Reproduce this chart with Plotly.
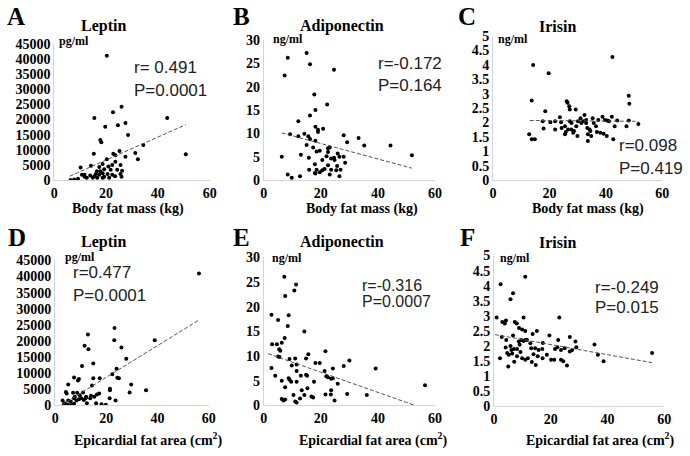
import plotly.graph_objects as go

# ---------------- data ----------------
A_x = [20.3, 43.6, 50.8, 26, 22.7, 15.5, 27.5, 24.6, 19.7, 28.5, 17.8, 18.2, 34.4, 15.3, 25.2, 22.8, 23.6, 31.3, 32.3, 27.5,
       20.3, 23.6, 18.7, 22.4, 25.6, 14.2, 20.9, 17.4, 10.2, 19.3, 21.8, 24.3, 26.2, 16.5, 17.8, 18.7, 16.1, 17.4, 11.7, 13.9,
       15.5, 20.6, 22.4, 23.5, 25.6, 26, 11.7, 12.6, 14.9, 16.6, 18.7, 9.2, 7.7, 6.3, 19.3, 21.2, 10.7]
A_y = [41000, 20470, 8530, 24200, 22400, 20470, 18870, 18100, 17600, 14900, 13200, 12500, 11600, 8740, 9600, 8740, 8200, 8950, 6900, 7700,
       6900, 6100, 5300, 5000, 5000, 4700, 4500, 4300, 4200, 3600, 3400, 3400, 3100, 2900, 2900, 2300, 2000, 1800, 1800, 1500,
       1300, 2000, 1800, 1300, 2000, 1100, 1100, 750, 750, 750, 750, 430, 200, 0, 1100, 750, 1800]

B_x = [8.4, 15, 16.2, 7.3, 24.6, 17.7, 18.1, 22.2, 16.2, 12.1, 18.1, 19, 20.8, 19, 9.2, 12.1, 14.2, 15.6, 16.2, 18.1,
       28, 29.2, 33.2, 35.2, 44.4, 51.9, 15, 17.3, 19.6, 22.5, 23.1, 18.5, 22.5, 6.3, 13, 15.8, 20.5, 22, 23.6, 24.6,
       25.9, 26.5, 28, 24.8, 17.9, 22.5, 25.7, 28.5, 15.9, 18.5, 20.5, 21.3, 23.6, 25.4, 26.9, 18.1, 19.6, 23.1, 8.4, 12.7,
       9.8, 26.5, 17.9]
B_y = [26.2, 27.2, 24.8, 22.4, 23.6, 18.3, 15, 16.2, 13.8, 12.6, 11.4, 10.8, 11, 10.3, 9.8, 9.4, 9.9, 9.4, 8.8, 8.4,
       9.6, 8.1, 9, 7.4, 7.4, 5.3, 7.5, 7, 6.3, 6.8, 7, 6.1, 6, 5, 5.4, 4.8, 4.3, 5.1, 4.6, 4.8,
       5.7, 5, 5, 4.3, 3.4, 3.2, 3, 3.7, 2.2, 2.2, 2.1, 2.4, 2.2, 2.1, 2.2, 1.4, 1.7, 1.2, 1.2, 0.8,
       0.5, 0.8, 1.5]

C_x = [14.2, 19.7, 42.3, 13.7, 18.5, 26.1, 26.4, 27, 27.2, 29.3, 48.1, 48.3, 12.8, 13.7, 14.8, 17.6, 17.9, 20.3, 22, 23.7,
       24.1, 24.3, 25.5, 25.8, 26.6, 27.2, 27.8, 27.8, 28.4, 28.7, 29.5, 29.9, 30.1, 31, 31.3, 31.9, 32.4, 33, 33, 33.4,
       33.6, 34.2, 33.6, 34.5, 34.8, 35.7, 36.5, 36.8, 37.3, 38, 38.8, 39.2, 39.6, 40.3, 41.1, 40.5, 42.1, 42.6, 43.1, 44,
       47.3, 48.1, 51.5, 22, 25.5, 35.3]
C_y = [3.99, 3.71, 4.27, 2.76, 2.39, 2.74, 2.68, 2.56, 2.45, 2.45, 2.93, 2.65, 1.59, 1.42, 1.42, 2.04, 1.79, 2.01, 1.76, 2.18,
       2.01, 1.81, 1.59, 1.67, 1.76, 2.04, 1.98, 1.76, 1.64, 1.7, 1.87, 1.53, 2.04, 2.15, 1.98, 2.04, 2.26, 2.09, 1.98, 1.81,
       1.59, 1.76, 1.36, 1.7, 1.53, 1.98, 1.87, 1.67, 2.09, 1.64, 2.2, 1.61, 2.09, 1.53, 2.04, 2.07, 2.2, 1.42, 1.87, 2.07,
       1.87, 2.07, 1.95, 2.04, 1.87, 2.15]

D_x = [56.2, 38.9, 23.2, 12.8, 23.1, 11.5, 13, 25.9, 27.8, 14.9, 10.5, 24, 22.3, 7.4, 9.3, 8.9, 14.9, 17.4, 24.3, 24.9,
       5.1, 14.4, 29.7, 21.4, 21.4, 35.5, 29.1, 4.2, 4.5, 7, 8.6, 9.6, 10.9, 7.7, 12.1, 14, 15.3, 16.3, 17.2, 2.9,
       5.1, 6.1, 8.3, 9.3, 10.2, 11.2, 11.9, 13.7, 21.3, 23.6, 16, 18.1, 19.8, 3.4, 4.9, 5.7, 6.6, 7.4, 3.8, 7.3, 12.4]
D_y = [40900, 20200, 24000, 22000, 20200, 18500, 17400, 18000, 14500, 13000, 12200, 11400, 9700, 8700, 8200, 7700, 8400, 8400, 8600, 8400,
       6500, 6200, 6500, 5200, 4700, 4700, 4000, 4200, 3700, 3900, 3900, 3200, 4000, 2700, 2700, 3000, 2700, 3400, 3700, 1500,
       1500, 1200, 1500, 1900, 2200, 1700, 2200, 2200, 2200, 1500, 700, 400, 200, 400, 200, 0, 200, 500, 700, 2200, 700]

E_x = [7.2, 10.7, 11.3, 7.5, 2.7, 8.7, 5, 8.4, 14.2, 7.3, 2.9, 4.6, 6.3, 5.4, 5.8, 21.6, 15.6, 5, 5.5, 9,
       11, 14.8, 30, 18.1, 19.6, 11.5, 9.8, 28, 2.7, 24.2, 39.2, 11.5, 21.3, 4, 13, 14.8, 15.2, 21.9, 22.5, 8.7,
       9, 9.6, 11.5, 6.3, 23.6, 24.2, 17.6, 25.9, 56.5, 7.5, 15.3, 13.3, 23.6, 10.4, 14.2, 16.7, 17.3, 21.6, 23.5, 29.2,
       36.1, 6.3, 6.9, 7.5, 11, 11.5, 24.8, 12.7]
E_y = [26.1, 23.3, 24.5, 22.2, 18.4, 18.3, 17.3, 16.1, 15, 13.7, 12.4, 12.4, 12.7, 11.4, 11.1, 11, 10.4, 9.9, 9.8, 9.4,
       9.5, 9.5, 9.1, 8.6, 8.6, 8.3, 8.1, 8, 7.6, 7.5, 7.5, 7, 7, 6, 6, 6.2, 6, 5.9, 5.7, 5.5,
       5.2, 4.8, 4.8, 5, 5.4, 5.5, 4.8, 4.4, 4.1, 3.7, 3.5, 3.1, 3.1, 2.1, 2.1, 1.8, 1.6, 2.2, 2.2, 2.3,
       2.1, 1.3, 1, 1.2, 0.8, 0.6, 1, 1.4]

F_x = [11, 2.3, 6.7, 5.8, 0.9, 10.4, 23, 2.9, 3.8, 4.2, 7.3, 8, 8.8, 9.9, 11, 13.6, 15.1, 19.5, 2.7, 6.7,
       4.3, 8.7, 9.6, 10.4, 11, 11.6, 17.2, 22.6, 26.7, 28.7, 35.4, 4.1, 5.8, 7, 8.1, 9.3, 13.1, 14.5, 15.7, 17,
       21.5, 22.3, 23.6, 24.9, 26.7, 29, 27.5, 4.6, 5.2, 6.4, 8.1, 9.9, 11, 11.9, 13.9, 15.4, 17.1, 20.1, 21.2, 23.6,
       36.6, 38.6, 55.7, 2.1, 7.1, 13.3, 14.7, 5, 24.4, 25.7, 9, 12.8, 6.1, 18.6]
F_y = [4.3, 4.05, 3.75, 3.55, 2.95, 2.95, 2.95, 2.8, 2.75, 2.85, 2.8, 2.75, 2.6, 2.55, 2.5, 2.4, 2.5, 2.35, 2.3, 2.35,
       2.2, 2.15, 2.2, 2.17, 2.2, 2.2, 2.1, 2.2, 2.3, 2.15, 2.05, 1.95, 2, 1.9, 1.9, 1.8, 1.93, 1.93, 1.87, 1.9,
       1.9, 1.96, 1.87, 1.93, 1.82, 1.96, 1.87, 1.77, 1.71, 1.75, 1.66, 1.6, 1.55, 1.6, 1.73, 1.66, 1.6, 1.55, 1.55, 1.55,
       1.71, 1.5, 1.77, 1.6, 1.48, 1.47, 1.37, 1.32, 1.5, 1.36, 2.04, 2.09, 1.87, 1.71]

# trend lines (endpoints)
A_trend_x, A_trend_y = [6.0, 50.8], [1300, 18300]
B_trend_x, B_trend_y = [6.3, 51.9], [10.1, 2.55]
C_trend_x, C_trend_y = [13.0, 51.5], [2.07, 2.04]
D_trend_x, D_trend_y = [2.6, 56.2], [200, 26500]
E_trend_x, E_trend_y = [1.5, 53.0], [10.5, 0.0]
F_trend_x, F_trend_y = [0.3, 55.7], [2.38, 1.45]

letters = ["A", "B", "C", "D", "E", "F"]
titles = ["Leptin", "Adiponectin", "Irisin", "Leptin", "Adiponectin", "Irisin"]
units = ["pg/ml", "ng/ml", "ng/ml", "pg/ml", "ng/ml", "ng/ml"]
xtitles = ["Body fat mass (kg)"] * 3 + ["Epicardial fat area (cm<sup>2</sup>)"] * 3
r_texts = ["r= 0.491", "r=-0.172", "r=0.098", "r=0.477", "r=-0.316", "r=-0.249"]
p_texts = ["P=0.0001", "P=0.164", "P=0.419", "P=0.0001", "P=0.0007", "P=0.015"]

leptin_ticks = list(range(0, 45001, 5000))
adipo_ticks = list(range(0, 31, 5))
irisin_ticks = [0, 0.5, 1, 1.5, 2, 2.5, 3, 3.5, 4, 4.5, 5]
x_ticks = [0, 20, 40, 60]

xs = [A_x, B_x, C_x, D_x, E_x, F_x]
ys = [A_y, B_y, C_y, D_y, E_y, F_y]
txs = [A_trend_x, B_trend_x, C_trend_x, D_trend_x, E_trend_x, F_trend_x]
tys = [A_trend_y, B_trend_y, C_trend_y, D_trend_y, E_trend_y, F_trend_y]
yticks = [leptin_ticks, adipo_ticks, irisin_ticks, leptin_ticks, adipo_ticks, irisin_ticks]

# ---------------- layout geometry (pixels) ----------------
W, H = 690, 456
def fx(p): return p / W
def fy(p): return 1 - p / H

boxes = [  # x0, x1, y_bottom, y_top in pixels
    (51, 209, 179, 38),
    (264, 438, 179, 34),
    (497, 669, 179, 30),
    (52, 208, 412, 262),
    (264, 438, 412, 259),
    (498, 671, 413, 257),
]
letter_pos = [(12, 10), (241, 10), (471, 10), (13, 238), (241, 238), (471, 238)]
title_pos = [(101, 20), (343, 20), (562, 20), (101, 243), (343, 243), (562, 243)]
unit_pos = [(54, 35), (271, 33), (500, 33), (60, 259), (270, 260), (502, 260)]
xtitle_pos = [(126, 209), (364, 209), (593, 209), (146, 447), (375, 447), (606, 447)]
# (x, y, size)
r_pos = [(130, 63, 17), (378, 58, 17), (623, 143, 17), (68, 275, 17), (362, 288, 16), (599, 290, 17)]
p_pos = [(130, 86, 17), (378, 81, 17), (623, 167, 17), (68, 298, 17), (362, 305, 16), (599, 311, 17)]

serif = "Liberation Serif"
sans = "Liberation Sans"

fig = go.Figure()
annotations = []
layout_axes = {}


def ann(text, x, y, size, family, bold, xanchor="center", color="black"):
    annotations.append(dict(
        text=text, x=fx(x), y=fy(y), xref="paper", yref="paper",
        xanchor=xanchor, yanchor="middle", showarrow=False,
        font=dict(family=family, size=size, color=color, weight="bold" if bold else "normal")))


for i in range(6):
    n = "" if i == 0 else str(i + 1)
    x0, x1, yb, yt = boxes[i]
    ymax = yticks[i][-1]
    layout_axes["xaxis" + n] = dict(
        domain=[fx(x0), fx(x1)], range=[0, 60], anchor="y" + n,
        tickvals=x_ticks, showgrid=False, zeroline=False,
        showline=True, linecolor="#d4d4d4", linewidth=1, ticks="",
        tickfont=dict(family=serif, size=14, color="black", weight="bold"),
    )
    layout_axes["yaxis" + n] = dict(
        domain=[fy(yb), fy(yt)], range=[0, ymax], anchor="x" + n,
        tickvals=yticks[i], ticktext=[f"{v:g}" for v in yticks[i]],
        showgrid=False, zeroline=False, ticks="",
        showline=True, linecolor="#d4d4d4", linewidth=1,
        tickfont=dict(family=serif, size=14, color="black", weight="bold"),
    )
    fig.add_trace(go.Scatter(
        x=xs[i], y=ys[i], mode="markers", xaxis="x" + n, yaxis="y" + n,
        marker=dict(color="black", size=4), showlegend=False, hoverinfo="skip"))
    fig.add_trace(go.Scatter(
        x=txs[i], y=tys[i], mode="lines", xaxis="x" + n, yaxis="y" + n,
        line=dict(color="#555555", width=1, dash="4px,2px"), showlegend=False, hoverinfo="skip"))

    ann(letters[i], *letter_pos[i], 25, serif, True)
    ann(titles[i], *title_pos[i], 16, serif, True)
    ann(units[i], *unit_pos[i], 12, serif, True, xanchor="left")
    ann(xtitles[i], *xtitle_pos[i], 14, serif, True)
    rx, ry, rs = r_pos[i]
    px_, py_, ps = p_pos[i]
    ann(r_texts[i], rx, ry, rs, sans, False, xanchor="left", color="#222222")
    ann(p_texts[i], px_, py_, ps, sans, False, xanchor="left", color="#222222")

fig.update_layout(
    width=W, height=H, margin=dict(l=0, r=0, t=0, b=0),
    paper_bgcolor="white", plot_bgcolor="white",
    annotations=annotations, **layout_axes)

fig.write_html(
    "out.html",
    config={"displayModeBar": False},
    post_script="document.body.style.margin='0';document.body.style.overflow='hidden';",
)
